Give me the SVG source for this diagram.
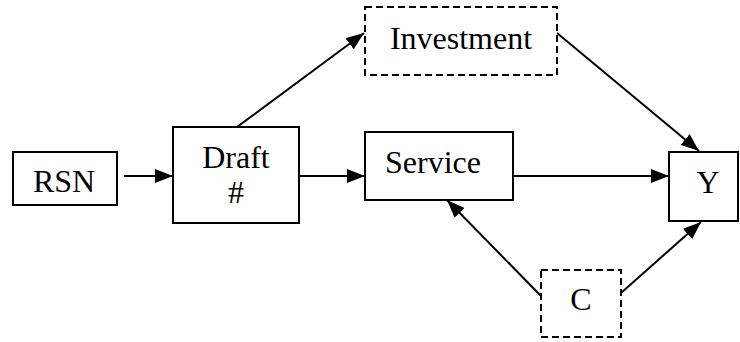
<svg xmlns="http://www.w3.org/2000/svg" width="740" height="342" viewBox="0 0 740 342">
<style>
.box{fill:#fff;stroke:#000;stroke-width:2}
.dash{stroke-dasharray:7,4}
.lbl{font-family:"Liberation Serif","Times New Roman",serif;font-size:32px;fill:#000;text-anchor:middle}
.edge{stroke:#000;stroke-width:2;fill:none;marker-end:url(#ah)}
</style>
<defs>
<marker id="ah" markerWidth="18" markerHeight="14" refX="18" refY="7" orient="auto" markerUnits="userSpaceOnUse">
<path d="M0,0 L18,7 L0,14 Z" fill="#000"/>
</marker>
</defs>
<rect width="740" height="342" fill="#fff"/>
<g id="connectors">
<line class="edge" x1="124" y1="176" x2="173" y2="176"/>
<line class="edge" x1="237" y1="127" x2="364" y2="33"/>
<line class="edge" x1="299" y1="176" x2="365" y2="176"/>
<line class="edge" x1="557" y1="33" x2="699" y2="151"/>
<line class="edge" x1="508" y1="176" x2="669" y2="176"/>
<line class="edge" x1="541" y1="296" x2="447" y2="200"/>
<line class="edge" x1="621" y1="293" x2="701" y2="222"/>
</g>
<g id="rsn">
<rect class="box" x="13" y="152" width="104" height="53"/>
<text class="lbl" x="64" y="192">RSN</text>
</g>
<g id="draft">
<rect class="box" x="173" y="127" width="126" height="96"/>
<text class="lbl" x="236" y="168">Draft</text>
<text class="lbl" x="236" y="203">#</text>
</g>
<g id="investment">
<rect class="box dash" x="365" y="7" width="192" height="68"/>
<text class="lbl" x="461" y="49">Investment</text>
</g>
<g id="service">
<rect class="box" x="365" y="132" width="148" height="68"/>
<text class="lbl" x="433" y="173">Service</text>
</g>
<g id="y">
<rect class="box" x="669" y="152" width="69" height="69"/>
<text class="lbl" x="708" y="193">Y</text>
</g>
<g id="c">
<rect class="box dash" x="541" y="270" width="80" height="67"/>
<text class="lbl" x="581" y="310">C</text>
</g>
</svg>
